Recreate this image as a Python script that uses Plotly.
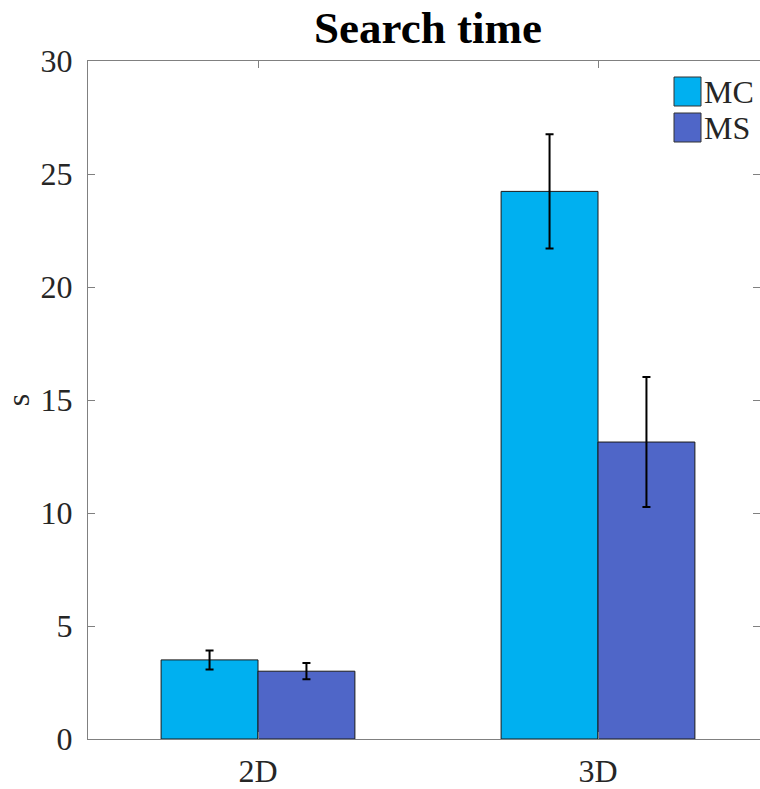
import plotly.graph_objects as go

categories = ["2D", "3D"]
series_names = ["MC", "MS"]
mc_values = [3.5, 24.23]
mc_errors = [0.42, 2.53]
ms_values = [3.0, 13.14]
ms_errors = [0.36, 2.88]
colors = ["#00B0F0", "#4F66C8"]
y_ticks = [0, 5, 10, 15, 20, 25, 30]

FONT = "Liberation Serif"
W, H = 760, 789
L, R, T, B = 88, 0, 61, 50
pw, ph = W - L - R, H - T - B

xpos = [1, 2]
fig = go.Figure()
for name, vals, errs, col in [("MC", mc_values, mc_errors, colors[0]),
                              ("MS", ms_values, ms_errors, colors[1])]:
    fig.add_trace(go.Bar(
        x=xpos, y=vals, name=name, marker=dict(color=col, line=dict(color="#1a1a1a", width=1)),
        error_y=dict(type="data", array=errs, visible=True, color="black", thickness=2, width=4),
        showlegend=False,
    ))

# invisible trace to activate the right-side mirrored tick axis
fig.add_trace(go.Scatter(x=[1], y=[0], yaxis="y2", mode="markers",
                         marker=dict(opacity=0), showlegend=False, hoverinfo="skip"))

# manual legend
def px2paper(x, y):
    return (x - L) / pw, (H - B - y) / ph

for i, (name, col) in enumerate(zip(series_names, colors)):
    y0 = 77 + i * 36
    x0p, y0p = px2paper(674, y0)
    x1p, y1p = px2paper(701, y0 + 29)
    fig.add_shape(type="rect", xref="paper", yref="paper", x0=x0p, x1=x1p, y0=y1p, y1=y0p,
                  fillcolor=col, line=dict(color="#333333", width=1))
    tx, ty = px2paper(702, y0 + 15)
    fig.add_annotation(xref="paper", yref="paper", x=tx, y=ty, text=name, showarrow=False,
                       xanchor="left", yanchor="middle", font=dict(family=FONT, size=32, color="#262626"))

fig.update_layout(
    width=W, height=H,
    margin=dict(l=L, r=R, t=T, b=B),
    paper_bgcolor="white", plot_bgcolor="white",
    barmode="group", bargap=0.43, bargroupgap=0,
    title=dict(text="<b>Search time</b>", x=(313 + 543) / 2 / W, xanchor="center",
               y=1 - 27 / H, yanchor="middle",
               font=dict(family=FONT, size=45, color="black")),
    font=dict(family=FONT, size=32, color="#262626"),
    yaxis2=dict(overlaying="y", side="right", range=[0, 30], tickvals=y_ticks,
                showticklabels=False, showline=False, ticks="inside", ticklen=7,
                tickcolor="#808080", showgrid=False, zeroline=False),
)
fig.update_xaxes(
    range=[0.5, 0.5 + pw / 340], tickvals=xpos, ticktext=categories,
    showline=True, linecolor="#808080", linewidth=1, mirror="ticks",
    ticks="inside", ticklen=7, tickcolor="#808080",
    showgrid=False, zeroline=False, ticklabelstandoff=4,
    tickfont=dict(family=FONT, size=32, color="#262626"),
)
fig.update_layout(yaxis=dict(
    range=[0, 30], tickvals=y_ticks,
    showline=True, linecolor="#808080", linewidth=1, mirror=False,
    ticks="inside", ticklen=7, tickcolor="#808080",
    showgrid=False, zeroline=False, ticklabelstandoff=8,
    tickfont=dict(family=FONT, size=32, color="#262626"),
    title=dict(text="s", standoff=8, font=dict(family=FONT, size=32, color="#262626")),
))
fig.write_html("out.html")
